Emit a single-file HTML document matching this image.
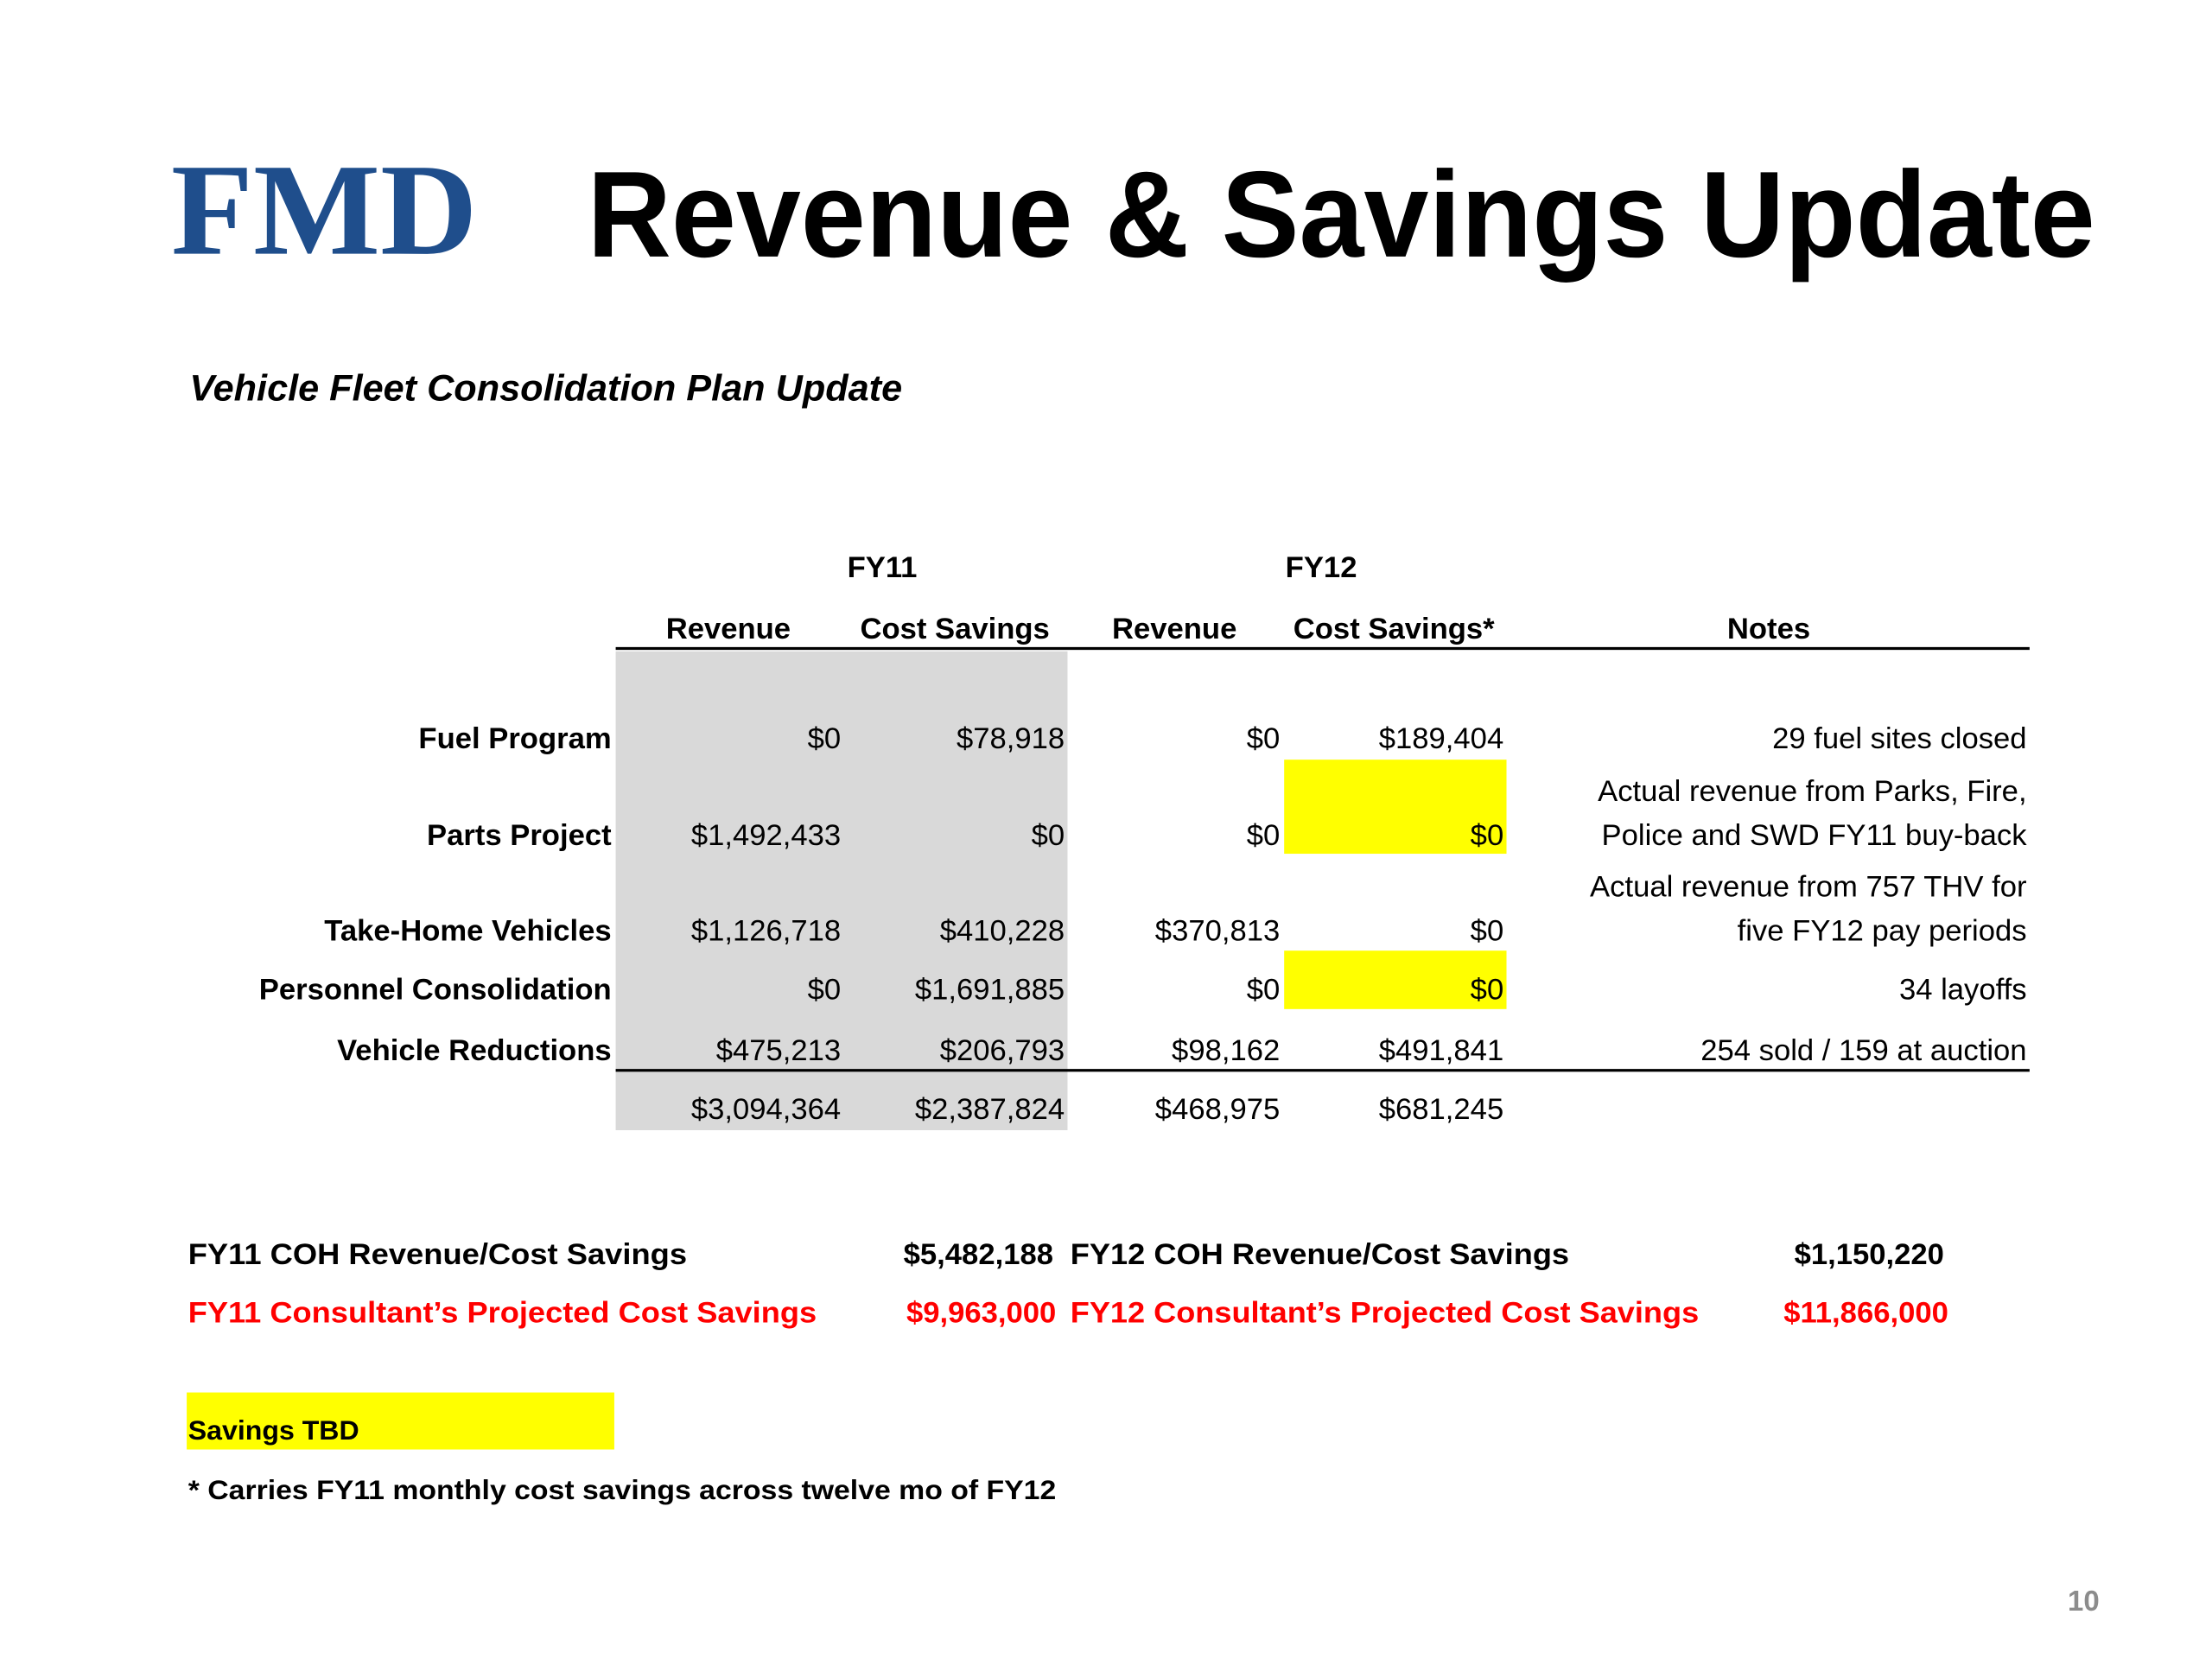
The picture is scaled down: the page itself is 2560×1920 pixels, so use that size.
<!DOCTYPE html>
<html><head><meta charset="utf-8"><style>
html,body{margin:0;padding:0;background:#fff;}
svg{display:block;}
text{font-family:"Liberation Sans",sans-serif;}
</style></head><body>
<svg id="slide" width="2560" height="1920" viewBox="0 0 1552 1164" xmlns="http://www.w3.org/2000/svg">
<rect width="1552" height="1164" fill="#fff"/>
<text x="120" y="178" font-family="Liberation Serif,serif" font-weight="bold" font-size="92" fill="#1f4e8c" textLength="215" lengthAdjust="spacingAndGlyphs" style="font-family:'Liberation Serif',serif">FMD</text>
<text x="412" y="180" font-weight="bold" font-size="86" fill="#000" textLength="1058" lengthAdjust="spacingAndGlyphs">Revenue &amp; Savings Update</text>
<text x="133" y="281" font-weight="bold" font-style="italic" font-size="26" textLength="500" lengthAdjust="spacingAndGlyphs">Vehicle Fleet Consolidation Plan Update</text>

<rect x="432" y="457" width="317" height="336" fill="#d9d9d9"/>
<rect x="901" y="533" width="156" height="66" fill="#ffff00"/>
<rect x="901" y="667" width="156" height="41" fill="#ffff00"/>

<text x="619" y="405" text-anchor="middle" font-weight="bold" font-size="21">FY11</text>
<text x="927" y="405" text-anchor="middle" font-weight="bold" font-size="21">FY12</text>
<g id="colheads" font-weight="bold" font-size="21" text-anchor="middle"></g>
<line x1="432" y1="455" x2="1424" y2="455" stroke="#000" stroke-width="2"/>
<line x1="432" y1="751" x2="1424" y2="751" stroke="#000" stroke-width="2"/>
<g id="rows" font-size="21"></g>

<text x="132" y="887" font-weight="bold" font-size="21" textLength="350" lengthAdjust="spacingAndGlyphs">FY11 COH Revenue/Cost Savings</text>
<text x="739" y="887" text-anchor="end" font-weight="bold" font-size="21">$5,482,188</text>
<text x="751" y="887" font-weight="bold" font-size="21" textLength="350" lengthAdjust="spacingAndGlyphs">FY12 COH Revenue/Cost Savings</text>
<text x="1364" y="887" text-anchor="end" font-weight="bold" font-size="21">$1,150,220</text>
<text x="132" y="928" font-weight="bold" font-size="21" fill="#ff0000" textLength="441" lengthAdjust="spacingAndGlyphs">FY11 Consultant’s Projected Cost Savings</text>
<text x="741" y="928" text-anchor="end" font-weight="bold" font-size="21" fill="#ff0000">$9,963,000</text>
<text x="751" y="928" font-weight="bold" font-size="21" fill="#ff0000" textLength="441" lengthAdjust="spacingAndGlyphs">FY12 Consultant’s Projected Cost Savings</text>
<text x="1367" y="928" text-anchor="end" font-weight="bold" font-size="21" fill="#ff0000">$11,866,000</text>

<rect x="131" y="977" width="300" height="40" fill="#ffff00"/>
<text x="132" y="1010" font-weight="bold" font-size="19" textLength="120" lengthAdjust="spacingAndGlyphs">Savings TBD</text>
<text x="132" y="1052" font-weight="bold" font-size="19" textLength="609" lengthAdjust="spacingAndGlyphs">* Carries FY11 monthly cost savings across twelve mo of FY12</text>
<text x="1473" y="1130" text-anchor="end" font-weight="bold" font-size="20" fill="#8c8c8c">10</text>
</svg>
<script>
const colHeaders = ["Revenue","Cost Savings","Revenue","Cost Savings*","Notes"];
const rowLabels = ["Fuel Program","Parts Project","Take-Home Vehicles","Personnel Consolidation","Vehicle Reductions"];
const fy11Revenue = ["$0","$1,492,433","$1,126,718","$0","$475,213"];
const fy11Savings = ["$78,918","$0","$410,228","$1,691,885","$206,793"];
const fy12Revenue = ["$0","$0","$370,813","$0","$98,162"];
const fy12Savings = ["$189,404","$0","$0","$0","$491,841"];
const totals = ["$3,094,364","$2,387,824","$468,975","$681,245"];
const notes = [["29 fuel sites closed"],["Actual revenue from Parks, Fire,","Police and SWD FY11 buy-back"],["Actual revenue from 757 THV for","five FY12 pay periods"],["34 layoffs"],["254 sold / 159 at auction"]];

const NS = "http://www.w3.org/2000/svg";
const headX = [511,670,824,978,1241];
const colRight = [590,747,898,1055];
const rowY = [525,593,660,701,744];
const totalY = 785;
const notesRight = 1422;
const noteLineGap = 31;

function txt(parent, x, y, s, anchor, bold) {
  const t = document.createElementNS(NS, "text");
  t.setAttribute("x", x);
  t.setAttribute("y", y);
  t.setAttribute("text-anchor", anchor);
  if (bold) t.setAttribute("font-weight", "bold");
  t.textContent = s;
  parent.appendChild(t);
  return t;
}
const heads = document.getElementById("colheads");
colHeaders.forEach((h, i) => {
  const t = txt(heads, headX[i], 448, h, "middle", true);
  
  
});
const rows = document.getElementById("rows");
const cols = [fy11Revenue, fy11Savings, fy12Revenue, fy12Savings];
rowLabels.forEach((lab, r) => {
  const g = document.createElementNS(NS, "g");
  
  
  rows.appendChild(g);
  const l = txt(g, 429, rowY[r], lab, "end", true);
  
  
  cols.forEach((c, ci) => {
    const t = txt(g, colRight[ci], rowY[r], c[r], "end", false);
    
    
  });
  const n = notes[r];
  n.forEach((line, li) => {
    const t = txt(g, notesRight, rowY[r] - (n.length - 1 - li) * noteLineGap, line, "end", false);
    
    
  });
});
totals.forEach((v, ci) => {
  const t = txt(rows, colRight[ci], totalY, v, "end", false);
  
  
});
</script>
</body></html>
